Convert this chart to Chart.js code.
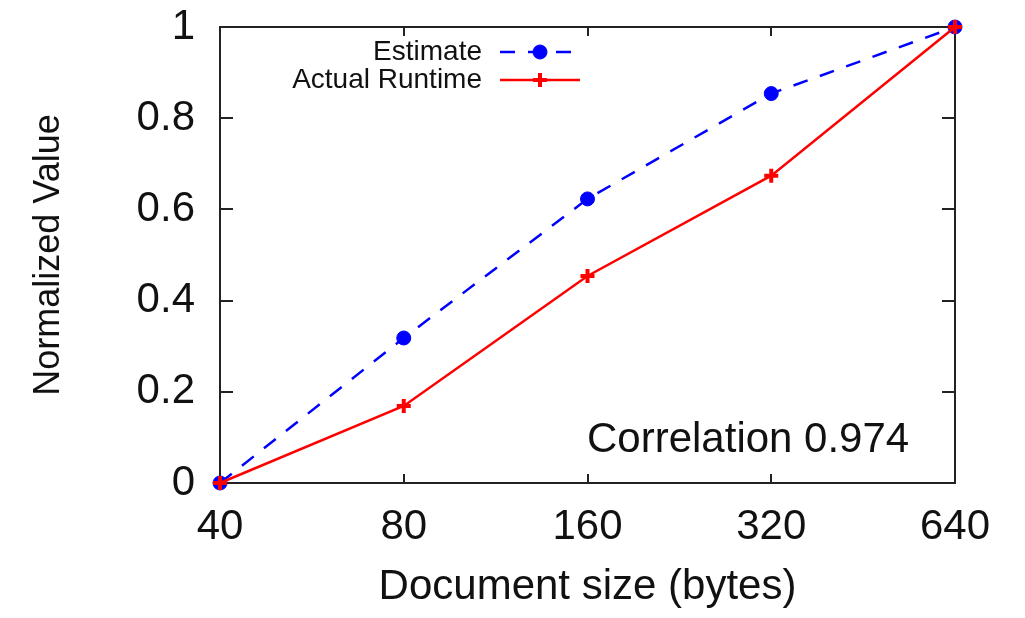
<!DOCTYPE html>
<html lang="en">
<head>
    <meta charset="UTF-8">
    <title>Estimate vs Actual Runtime</title>
    <script src="https://cdn.jsdelivr.net/npm/chart.js"></script>
    <style>
        body {
            margin: 0;
            padding: 0;
            background: #fff;
        }
        canvas {
            display: block;
        }
    </style>
</head>
<body>
    <canvas id="runtimeChart" width="1025" height="618"></canvas>

    <script>
        // values
        const docSizes = ["40", "80", "160", "320", "640"];
        const estimate = [0, 0.318, 0.623, 0.854, 1];
        const actualRuntime = [0, 0.169, 0.454, 0.674, 1];
        const yTicks = [0, 0.2, 0.4, 0.6, 0.8, 1];
        const correlationText = "Correlation 0.974";

        const FONT = "'Liberation Sans', Arial, Helvetica, sans-serif";
        const AXIS_COLOR = "#222";

        // gnuplot style: ticks pointing inwards on all four sides
        const inwardTicks = {
            id: "inwardTicks",
            beforeDatasetsDraw(chart) {
                const ctx = chart.ctx;
                const area = chart.chartArea;
                const xs = chart.scales.x;
                const ys = chart.scales.y;
                ctx.save();
                ctx.strokeStyle = AXIS_COLOR;
                ctx.lineWidth = 2;
                ctx.beginPath();
                xs.ticks.forEach((t, i) => {
                    const px = Math.round(xs.getPixelForTick(i));
                    ctx.moveTo(px, area.bottom);
                    ctx.lineTo(px, area.bottom - 9);
                    ctx.moveTo(px, area.top);
                    ctx.lineTo(px, area.top + 9);
                });
                yTicks.forEach(v => {
                    const py = Math.round(ys.getPixelForValue(v));
                    ctx.moveTo(area.left, py);
                    ctx.lineTo(area.left + 13, py);
                    ctx.moveTo(area.right, py);
                    ctx.lineTo(area.right - 13, py);
                });
                ctx.stroke();
                ctx.restore();
            }
        };

        // legend inside the plot (text left of sample) and the correlation label
        const insideLabels = {
            id: "insideLabels",
            afterDraw(chart) {
                const ctx = chart.ctx;
                const area = chart.chartArea;
                ctx.save();

                const textRight = area.left + 262;
                const x0 = area.left + 280;
                const x1 = area.left + 360;
                const xm = (x0 + x1) / 2;
                const rows = [
                    { ds: chart.data.datasets[0], y: area.top + 25 },
                    { ds: chart.data.datasets[1], y: area.top + 53 }
                ];
                ctx.font = "28px " + FONT;
                ctx.textAlign = "right";
                ctx.textBaseline = "middle";
                rows.forEach(r => {
                    ctx.fillStyle = "#111";
                    ctx.fillText(r.ds.label, textRight, r.y);
                    ctx.strokeStyle = r.ds.borderColor;
                    ctx.lineWidth = r.ds.borderWidth;
                    ctx.setLineDash(r.ds.borderDash || []);
                    ctx.beginPath();
                    ctx.moveTo(x0, r.y);
                    ctx.lineTo(x1, r.y);
                    ctx.stroke();
                    ctx.setLineDash([]);
                    ctx.fillStyle = r.ds.pointBackgroundColor;
                    ctx.strokeStyle = r.ds.pointBorderColor;
                    ctx.lineWidth = r.ds.pointBorderWidth;
                    Chart.helpers.drawPoint(ctx, {
                        pointStyle: r.ds.pointStyle,
                        radius: r.ds.pointRadius,
                        rotation: 0,
                        borderWidth: r.ds.pointBorderWidth
                    }, xm, r.y);
                });

                ctx.font = "42px " + FONT;
                ctx.fillStyle = "#111";
                ctx.textAlign = "left";
                ctx.textBaseline = "alphabetic";
                ctx.fillText(correlationText, area.left + 367, area.bottom - 31);
                ctx.restore();
            }
        };

        const ctx = document.getElementById("runtimeChart").getContext("2d");
        new Chart(ctx, {
            type: "line",
            data: {
                labels: docSizes,
                datasets: [
                    {
                        label: "Estimate",
                        data: estimate,
                        borderColor: "#0000ff",
                        borderWidth: 2.5,
                        borderDash: [15, 13],
                        pointStyle: "circle",
                        pointRadius: 7,
                        pointBackgroundColor: "#0000ff",
                        pointBorderColor: "#0000ff",
                        pointBorderWidth: 1,
                        tension: 0,
                        fill: false,
                        clip: false,
                        order: 2
                    },
                    {
                        label: "Actual Runtime",
                        data: actualRuntime,
                        borderColor: "#ff0000",
                        borderWidth: 2.5,
                        pointStyle: "cross",
                        pointRadius: 7,
                        pointBackgroundColor: "#ff0000",
                        pointBorderColor: "#ff0000",
                        pointBorderWidth: 4,
                        tension: 0,
                        fill: false,
                        clip: false,
                        order: 1
                    }
                ]
            },
            options: {
                responsive: false,
                animation: false,
                devicePixelRatio: 1,
                layout: { padding: 0 },
                plugins: {
                    legend: { display: false },
                    tooltip: { enabled: false }
                },
                scales: {
                    x: {
                        type: "category",
                        position: "bottom",
                        offset: false,
                        grid: { drawOnChartArea: false, drawTicks: false },
                        border: { display: true, color: AXIS_COLOR, width: 2 },
                        ticks: {
                            color: "#111",
                            font: { family: FONT, size: 42 },
                            padding: 19,
                            maxRotation: 0,
                            autoSkip: false
                        },
                        title: {
                            display: true,
                            text: "Document size (bytes)",
                            color: "#111",
                            font: { family: FONT, size: 42 },
                            padding: { top: 0, bottom: 5 }
                        },
                        afterFit(scale) {
                            scale.height = 135;
                            scale.paddingLeft = 0;
                            scale.paddingRight = 0;
                        }
                    },
                    xTop: {
                        type: "category",
                        position: "top",
                        offset: false,
                        grid: { drawOnChartArea: false, drawTicks: false },
                        border: { display: true, color: AXIS_COLOR, width: 2 },
                        ticks: { display: false },
                        afterFit(scale) {
                            scale.height = 27;
                            scale.paddingLeft = 0;
                            scale.paddingRight = 0;
                        }
                    },
                    y: {
                        position: "left",
                        min: 0,
                        max: 1,
                        afterBuildTicks(scale) {
                            scale.ticks = yTicks.map(v => ({ value: v }));
                        },
                        grid: { drawOnChartArea: false, drawTicks: false },
                        border: { display: true, color: AXIS_COLOR, width: 2 },
                        ticks: {
                            color: "#111",
                            font: { family: FONT, size: 42 },
                            padding: 25,
                            callback: v => String(Math.round(v * 10) / 10)
                        },
                        title: {
                            display: true,
                            text: "Normalized Value",
                            color: "#111",
                            font: { family: FONT, size: 36 },
                            padding: { top: 27, bottom: 0 }
                        },
                        afterFit(scale) {
                            scale.width = 220;
                            scale.paddingTop = 0;
                            scale.paddingBottom = 0;
                        }
                    },
                    yRight: {
                        position: "right",
                        min: 0,
                        max: 1,
                        grid: { drawOnChartArea: false, drawTicks: false },
                        border: { display: true, color: AXIS_COLOR, width: 2 },
                        ticks: { display: false },
                        afterFit(scale) {
                            scale.width = 70;
                            scale.paddingTop = 0;
                            scale.paddingBottom = 0;
                        }
                    }
                }
            },
            plugins: [inwardTicks, insideLabels]
        });
    </script>
</body>
</html>
